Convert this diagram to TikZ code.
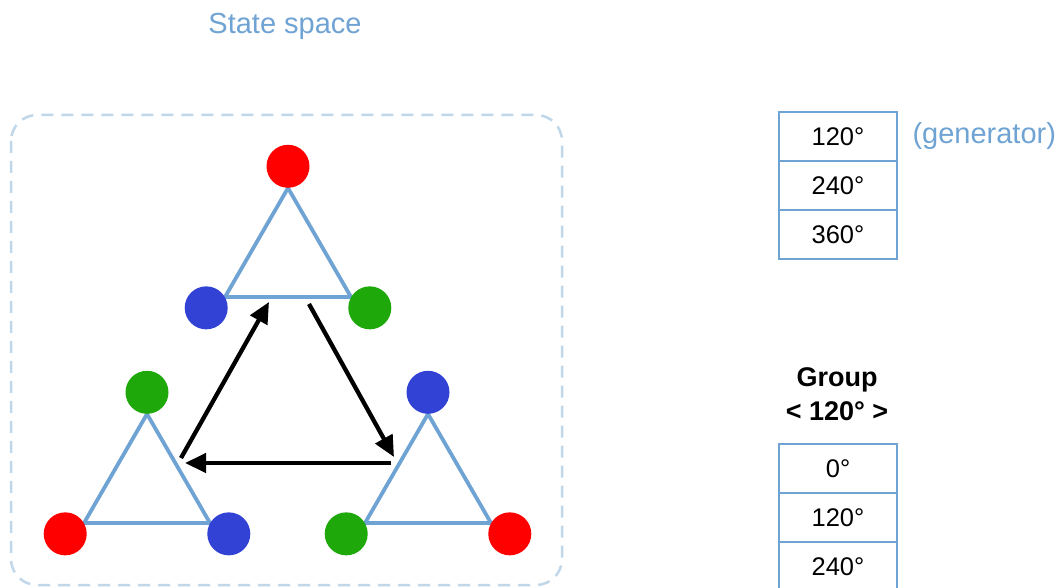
\documentclass[tikz,border=0pt]{standalone}
\usepackage{fontspec}
\setmainfont{Liberation Sans}
\usetikzlibrary{
    arrows.meta,
    positioning
}
\definecolor{edgeblue}{RGB}{111,163,211}
\definecolor{frameblue}{RGB}{192,215,234}
\definecolor{dotred}{RGB}{255,0,0}
\definecolor{dotblue}{RGB}{50,66,212}
\definecolor{dotgreen}{RGB}{30,168,10}

\begin{document}
\begin{tikzpicture}[
    x=1pt, y=-1pt,
    dot/.style={circle, minimum size=43pt, inner sep=0pt},
    edge/.style={edgeblue, line width=3.8pt, line join=round},
    arrow/.style={-{Triangle[length=21pt, width=19pt]}, line width=4.3pt},
    cell/.style={rectangle, draw=edgeblue, line width=1.4pt, minimum width=118pt, minimum height=49pt, outer sep=0pt, font=\fontsize{25.5}{30}\selectfont},
    title/.style={text=edgeblue, font=\fontsize{29}{34}\selectfont}
]
\useasboundingbox (0,0) rectangle (1062,588);

% State space
\draw[frameblue, line width=2.5pt, dash pattern=on 12pt off 8pt, rounded corners=26pt] (11,115) rectangle (562,585);
\node[title] (space) at (285,26) {State space};

% Triangle corners
\coordinate (top1) at (288,188);  \coordinate (top2) at (225,297);  \coordinate (top3) at (351,297);
\coordinate (left1) at (147,414); \coordinate (left2) at (84,523);  \coordinate (left3) at (210,523);
\coordinate (right1) at (428,414); \coordinate (right2) at (365,523); \coordinate (right3) at (491,523);

\draw[edge] (top1) -- (top2) -- (top3) -- cycle;
\draw[edge] (left1) -- (left2) -- (left3) -- cycle;
\draw[edge] (right1) -- (right2) -- (right3) -- cycle;

% Coloured vertices
\node[dot, fill=dotred, anchor=south] (topR) at (top1) {};
\node[dot, fill=dotblue, anchor=30] (topB) at (top2) {};
\node[dot, fill=dotgreen, anchor=150] (topG) at (top3) {};
\node[dot, fill=dotgreen, anchor=south] (leftG) at (left1) {};
\node[dot, fill=dotred, anchor=30] (leftR) at (left2) {};
\node[dot, fill=dotblue, anchor=150] (leftB) at (left3) {};
\node[dot, fill=dotblue, anchor=south] (rightB) at (right1) {};
\node[dot, fill=dotgreen, anchor=30] (rightG) at (right2) {};
\node[dot, fill=dotred, anchor=150] (rightR) at (right3) {};

% Rotations
\coordinate (leftout) at (181,458);  \coordinate (topin) at (269,302);
\coordinate (topout) at (309,304);   \coordinate (rightin) at (394,457);
\coordinate (rightout) at (391,463); \coordinate (leftin) at (185,463);
\draw[arrow] (leftout) -- (topin);
\draw[arrow] (topout) -- (rightin);
\draw[arrow] (rightout) -- (leftin);

% Generator table
\node[cell] (gen1) at (838,136.5) {120°};
\node[cell, below=0pt of gen1] (gen2) {240°};
\node[cell, below=0pt of gen2] (gen3) {360°};
\node[title, right=12pt of gen1] (genlabel) {(generator)};

% Group table
\node[font=\bfseries\fontsize{27}{34}\selectfont, align=center] (group) at (837,394) {Group\\< 120° >};
\node[cell] (elem1) at (838,468.5) {0°};
\node[cell, below=0pt of elem1] (elem2) {120°};
\node[cell, below=0pt of elem2] (elem3) {240°};
\end{tikzpicture}
\end{document}
